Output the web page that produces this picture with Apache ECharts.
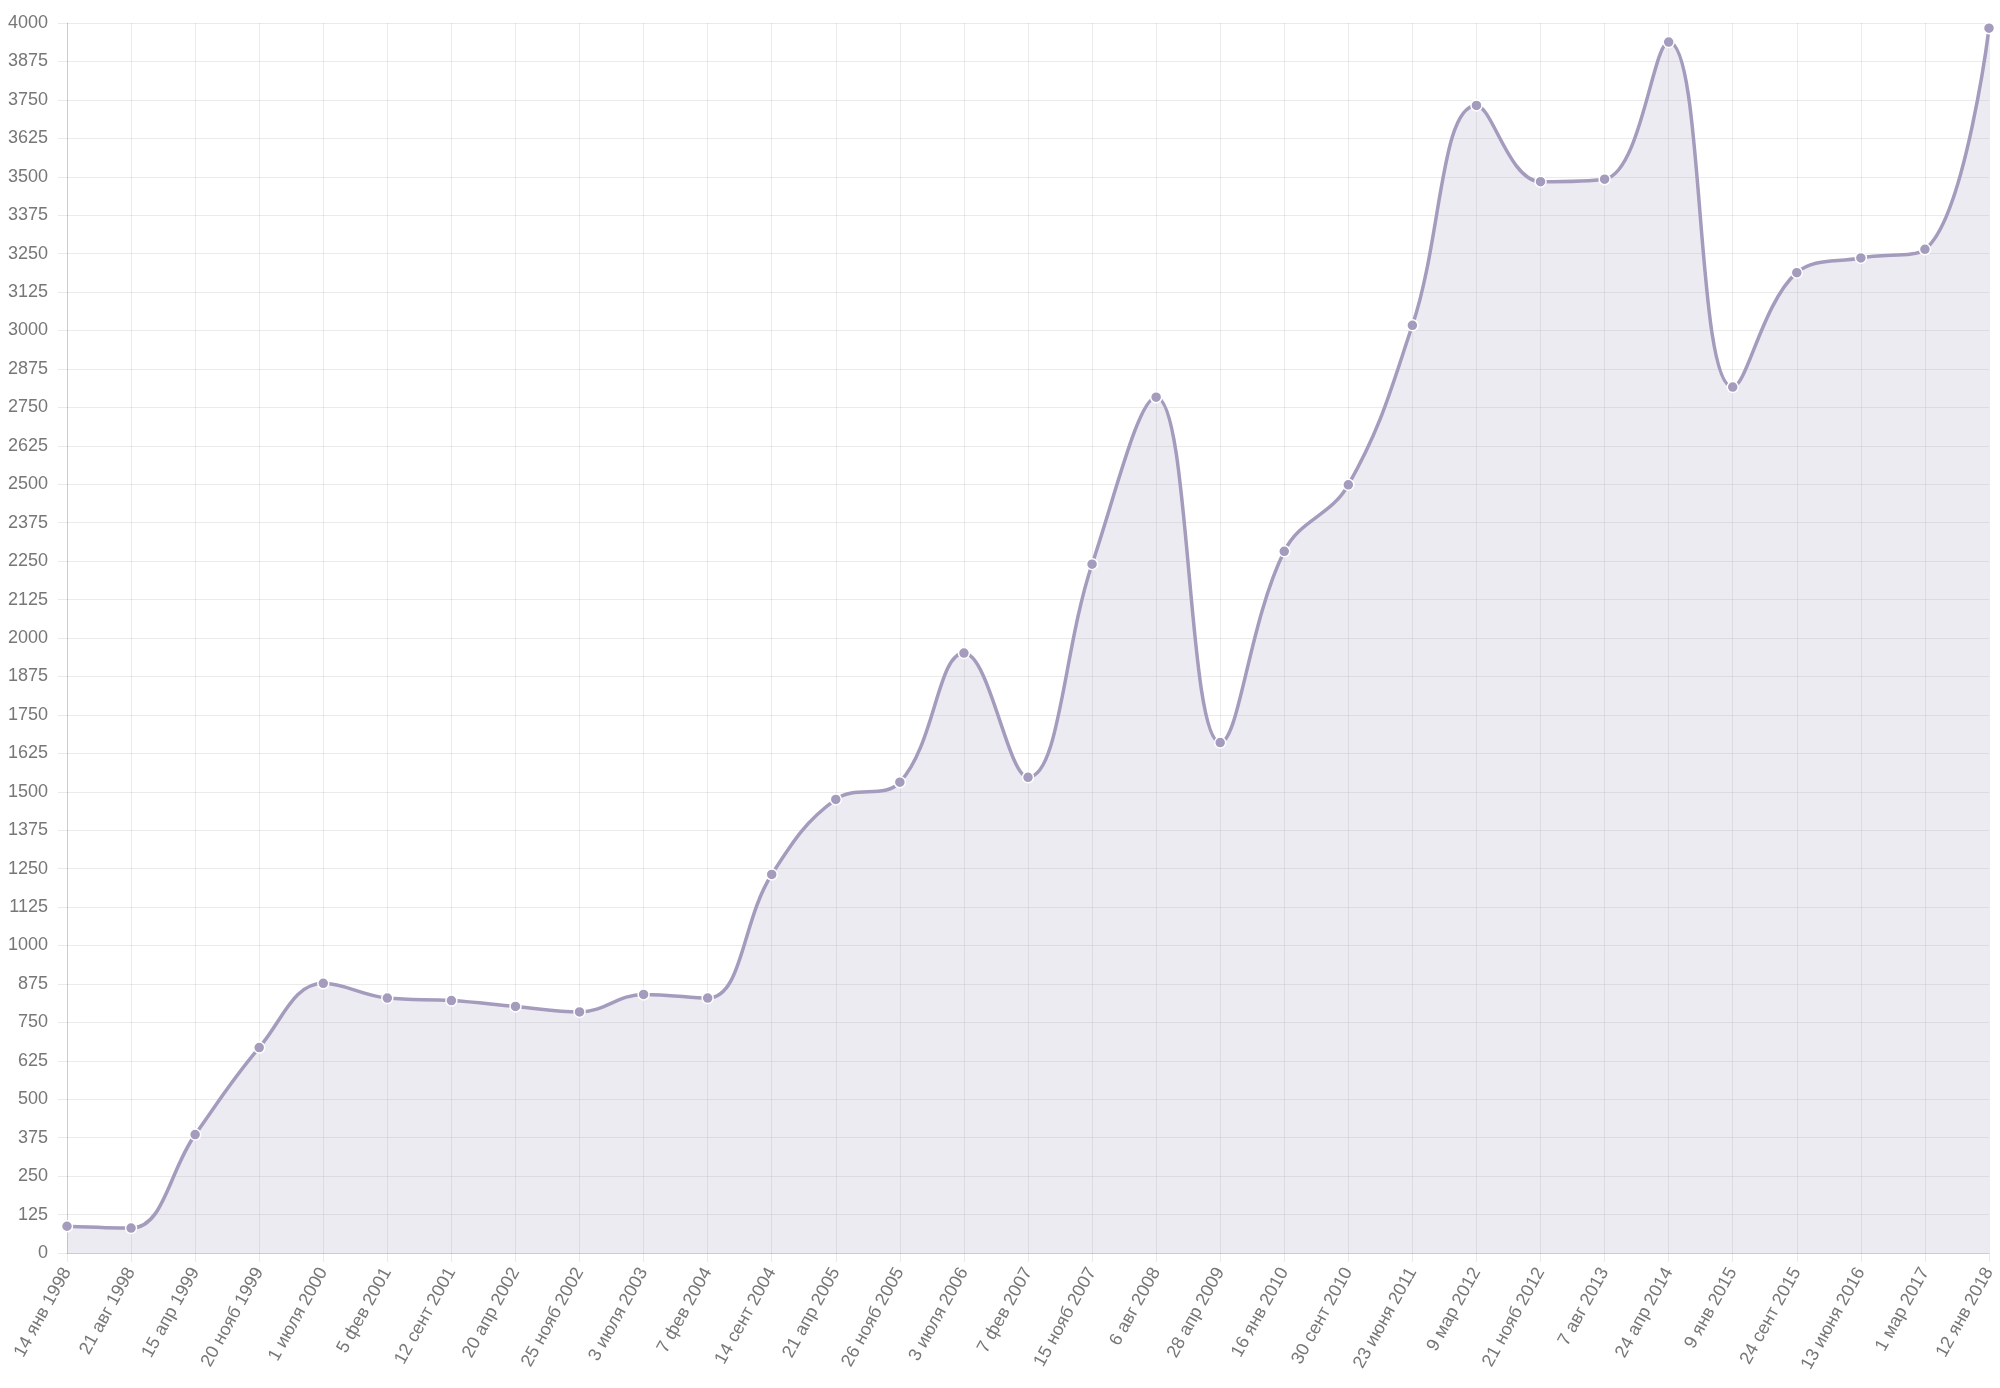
<!DOCTYPE html>
<html>
<head>
<meta charset="utf-8">
<script src="https://cdn.jsdelivr.net/npm/echarts@6/dist/echarts.min.js"></script>
<style>
  html, body { margin: 0; padding: 0; background: #fff; }
  #chart { width: 2000px; height: 1388px; }
</style>
</head>
<body>
<div id="chart"></div>
<script>
// даты замеров
var dates = [
  '14 янв 1998', '21 авг 1998', '15 апр 1999', '20 нояб 1999', '1 июля 2000',
  '5 фев 2001', '12 сент 2001', '20 апр 2002', '25 нояб 2002', '3 июля 2003',
  '7 фев 2004', '14 сент 2004', '21 апр 2005', '26 нояб 2005', '3 июля 2006',
  '7 фев 2007', '15 нояб 2007', '6 авг 2008', '28 апр 2009', '16 янв 2010',
  '30 сент 2010', '23 июня 2011', '9 мар 2012', '21 нояб 2012', '7 авг 2013',
  '24 апр 2014', '9 янв 2015', '24 сент 2015', '13 июня 2016', '1 мар 2017',
  '12 янв 2018'
]

var values = [
  87, 81, 385, 668, 877,
  829, 821, 802, 784, 841,
  829, 1231, 1475, 1531, 1951,
  1547, 2240, 2783, 1660, 2282,
  2498, 3017, 3732, 3484, 3492,
  3938, 2816, 3188, 3236, 3264,
  3983
]

var yMin = 0
var yMax = 4000
var yStep = 125

var lineColor = '#a49bbd'
var gridColor = 'rgba(0,0,0,0.08)'
var textColor = '#777'
var fontFamily = '"Liberation Sans", Arial, sans-serif'

var chart = echarts.init(document.getElementById('chart'))

var option = {
  animation: false,
  grid: {
    left: 67,
    right: 11,
    top: 23,
    bottom: 135,
    containLabel: false
  },
  xAxis: {
    type: 'category',
    data: dates,
    boundaryGap: false,
    axisLine: { lineStyle: { color: 'rgba(0,0,0,0.13)', width: 1 } },
    axisTick: { show: true, alignWithLabel: true, length: 9, lineStyle: { color: gridColor } },
    splitLine: { show: true, lineStyle: { color: gridColor, width: 1 } },
    axisLabel: {
      interval: 0,
      rotate: 61,
      margin: 16,
      color: textColor,
      fontSize: 18,
      fontFamily: fontFamily
    }
  },
  yAxis: {
    type: 'value',
    min: yMin,
    max: yMax,
    interval: yStep,
    axisLine: { show: true, lineStyle: { color: 'rgba(0,0,0,0.13)', width: 1 } },
    axisTick: { show: true, length: 9, lineStyle: { color: gridColor } },
    splitLine: { show: true, lineStyle: { color: gridColor, width: 1 } },
    axisLabel: {
      margin: 19,
      color: textColor,
      fontSize: 18,
      fontFamily: fontFamily,
      formatter: function (v) { return String(v) }
    }
  },
  series: [{
    type: 'line',
    data: values,
    smooth: 0.4,
    symbol: 'circle',
    symbolSize: 11,
    showSymbol: true,
    lineStyle: { color: lineColor, width: 3.5 },
    itemStyle: { color: lineColor, borderColor: '#fff', borderWidth: 1.5 },
    areaStyle: { color: lineColor, opacity: 0.2 }
  }]
}

chart.setOption(option)
</script>
</body>
</html>
